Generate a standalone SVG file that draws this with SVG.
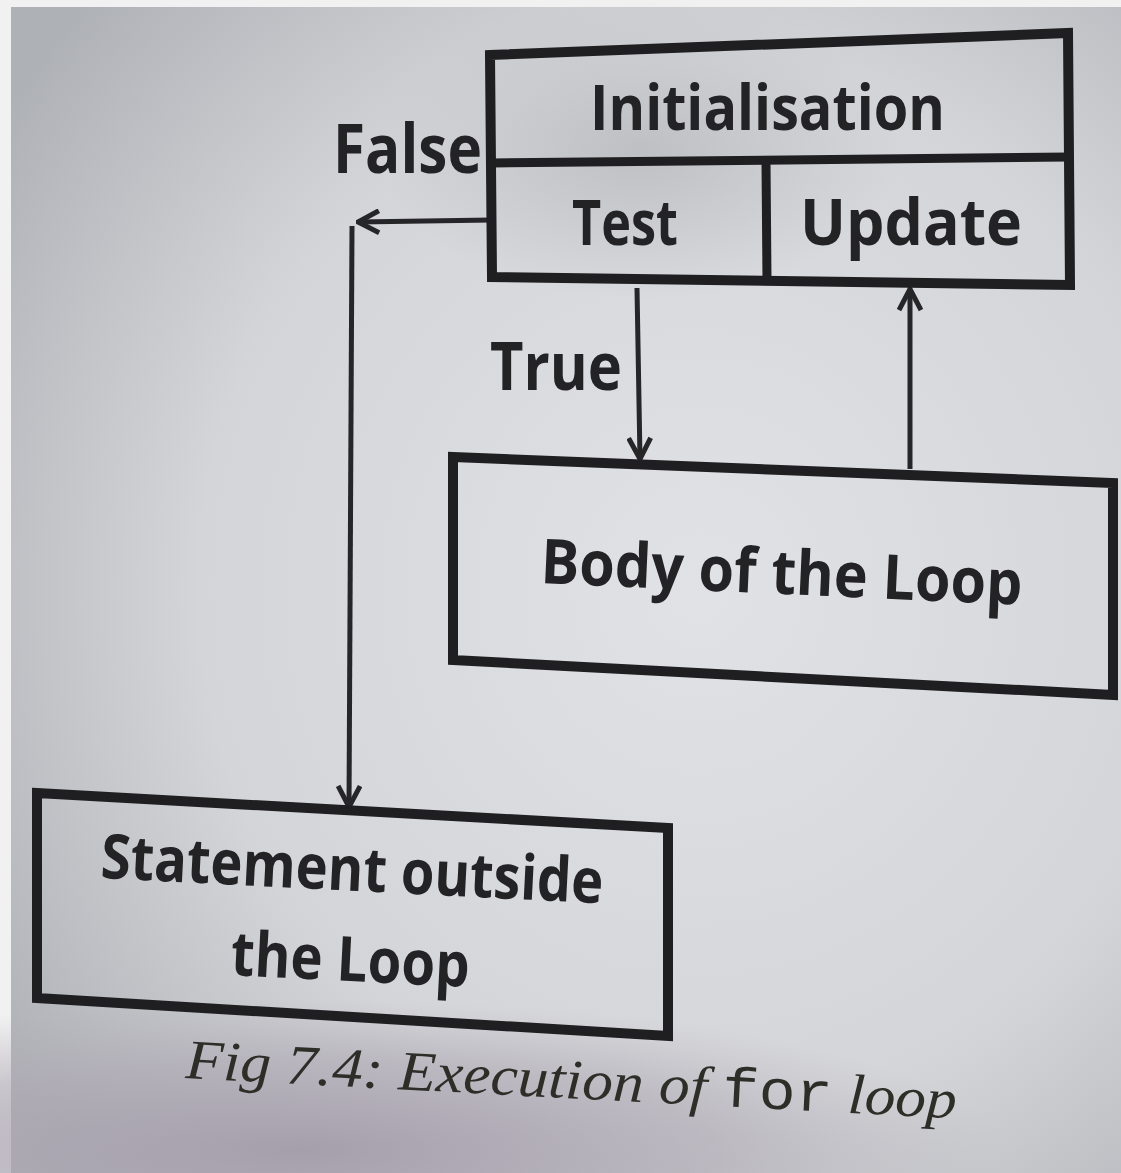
<svg xmlns="http://www.w3.org/2000/svg" width="1121" height="1173" viewBox="0 0 1121 1173">
  <defs>
    <style>
      .box { fill: none; stroke: #1f1f21; stroke-width: 10; stroke-linejoin: miter; }
      .div { stroke: #1f1f21; stroke-width: 9; fill: none; }
      .conn { stroke: #262628; stroke-width: 5; fill: none; }
      .lbl { font-family: "Open Sans", "Noto Sans", "Liberation Sans", sans-serif; font-weight: 700; fill: #232325; }
      .cap { font-family: "Liberation Serif", "Times New Roman", serif; font-style: italic; fill: #2e2e28; }
      .mono { font-family: "Liberation Mono", "Courier New", monospace; font-style: normal; }
    </style>
    <marker id="arrow" viewBox="0 0 26 26" refX="24" refY="13" markerWidth="26" markerHeight="26" markerUnits="userSpaceOnUse" orient="auto">
      <path d="M3,2 L24,13 L3,24" fill="none" stroke="#262628" stroke-width="5" stroke-linejoin="miter"/>
    </marker>
    <radialGradient id="page" cx="0.62" cy="0.5" r="0.75">
      <stop offset="0" stop-color="#e1e2e5"/>
      <stop offset="0.6" stop-color="#d4d5d9"/>
      <stop offset="1" stop-color="#aeb1b6"/>
    </radialGradient>
    <radialGradient id="shadeTop" cx="0.5" cy="0.5" r="0.5">
      <stop offset="0" stop-color="#b9babe" stop-opacity="0.8"/>
      <stop offset="1" stop-color="#b9babe" stop-opacity="0"/>
    </radialGradient>
    <radialGradient id="shadeBottom" cx="0.5" cy="0.5" r="0.5">
      <stop offset="0" stop-color="#a39daa" stop-opacity="0.95"/>
      <stop offset="0.6" stop-color="#aea8b3" stop-opacity="0.6"/>
      <stop offset="1" stop-color="#b6b1ba" stop-opacity="0"/>
    </radialGradient>
  </defs>

  <!-- page -->
  <rect x="0" y="0" width="1121" height="1173" fill="#f1f1f2"/>
  <rect x="11" y="7" width="1110" height="1166" fill="url(#page)"/>
  <ellipse cx="640" cy="150" rx="260" ry="150" fill="url(#shadeTop)"/>
  <ellipse cx="300" cy="1150" rx="700" ry="150" fill="url(#shadeBottom)"/>

  <!-- connectors -->
  <g id="connectors">
    <path class="conn" d="M492,220 L358,222" marker-end="url(#arrow)"/>
    <path class="conn" d="M352,226 L349,807" marker-end="url(#arrow)"/>
    <path class="conn" d="M637,288 L640,459" marker-end="url(#arrow)"/>
    <path class="conn" d="M910,469 L910,289" marker-end="url(#arrow)"/>
    <text class="lbl" x="333" y="173" font-size="68" textLength="149" lengthAdjust="spacingAndGlyphs">False</text>
    <text class="lbl" x="490" y="390" font-size="66" textLength="132" lengthAdjust="spacingAndGlyphs">True</text>
  </g>

  <!-- for-loop header: initialisation / test / update -->
  <g id="header">
    <polygon class="box" points="490,55 1068,33 1070,285 492,277"/>
    <line class="div" x1="492" y1="163" x2="1069" y2="157"/>
    <line class="div" x1="766" y1="162" x2="767" y2="281" stroke-width="8"/>
  </g>
  <g id="initialisation">
    <text class="lbl" x="590" y="130" font-size="62" textLength="355" lengthAdjust="spacingAndGlyphs">Initialisation</text>
  </g>
  <g id="test">
    <text class="lbl" x="572" y="245" font-size="62" textLength="106" lengthAdjust="spacingAndGlyphs">Test</text>
  </g>
  <g id="update">
    <text class="lbl" x="800" y="245" font-size="64" textLength="222" lengthAdjust="spacingAndGlyphs">Update</text>
  </g>

  <!-- loop body -->
  <g id="body">
    <polygon class="box" points="453,457 1113,483 1113,695 453,660"/>
    <text class="lbl" x="540" y="583" font-size="62" textLength="482" lengthAdjust="spacingAndGlyphs" transform="rotate(2.6 540 583)">Body of the Loop</text>
  </g>

  <!-- statement after the loop -->
  <g id="outside">
    <polygon class="box" points="37,793 668,828 668,1036 37,998"/>
    <text class="lbl" x="100" y="878" font-size="62" textLength="503" lengthAdjust="spacingAndGlyphs" transform="rotate(2.9 100 878)">Statement outside</text>
    <text class="lbl" x="230" y="975" font-size="62" textLength="239" lengthAdjust="spacingAndGlyphs" transform="rotate(2.9 230 975)">the Loop</text>
  </g>

  <!-- caption -->
  <text class="cap" x="185" y="1078" font-size="56" textLength="772" lengthAdjust="spacingAndGlyphs" transform="rotate(3 185 1078)">Fig 7.4: Execution of <tspan class="mono">for</tspan> loop</text>
</svg>
